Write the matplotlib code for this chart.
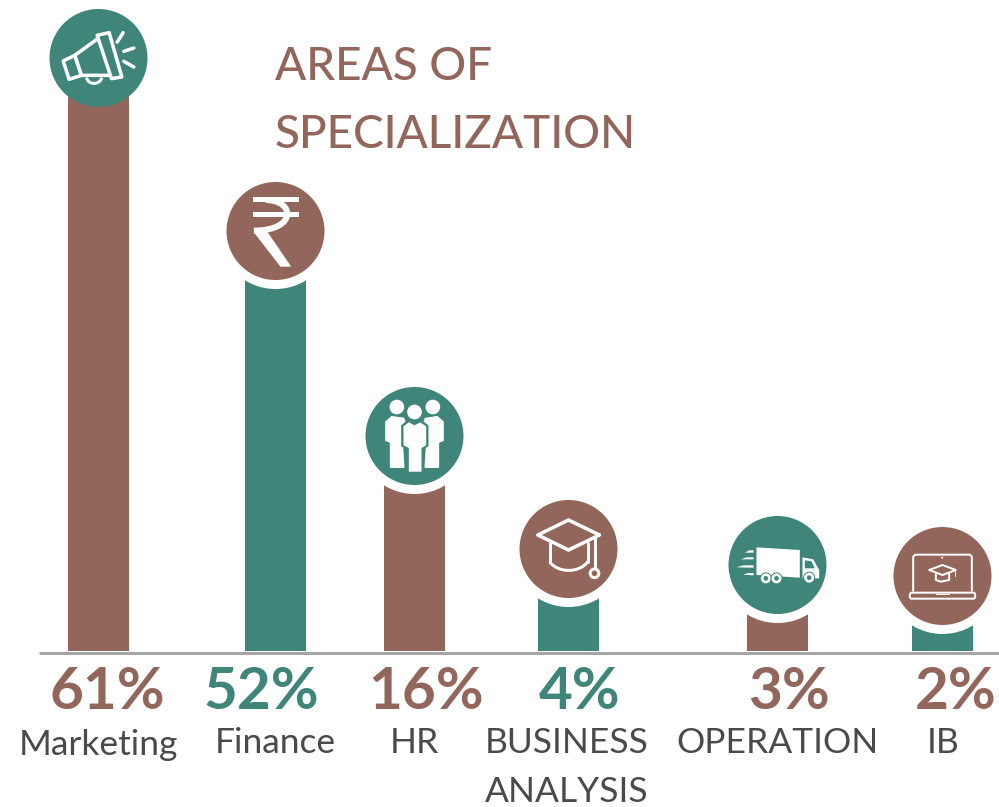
import matplotlib
matplotlib.use("Agg")
from matplotlib import pyplot as plt
from matplotlib.patches import Circle, Polygon, PathPatch, FancyBboxPatch
from matplotlib.path import Path

BROWN = "#93665B"
TEAL = "#3F857A"
GREY = "#4A4A4A"

categories = ["Marketing", "Finance", "HR", "BUSINESS\nANALYSIS", "OPERATION", "IB"]
percents = ["61%", "52%", "16%", "4%", "3%", "2%"]
# bars are not to scale in the picture, heights read off in pixels above the axis
bar_heights = [593, 420, 215, 102, 86, 75]
bar_x = [98.5, 275.5, 414.5, 568.5, 777.5, 942.5]
bar_colors = [BROWN, TEAL, BROWN, TEAL, BROWN, TEAL]
circle_colors = [TEAL, BROWN, TEAL, BROWN, TEAL, BROWN]
percent_colors = [BROWN, TEAL, BROWN, TEAL, BROWN, BROWN]
percent_x = [107, 261, 426, 580, 789, 956]
label_x = [98, 275, 414, 567, 778, 943]
label_y = [-104, -102, -102, -151, -102, -102]

fig = plt.figure(figsize=(9.99, 8.07), dpi=100)
ax = fig.add_axes([0, 0, 1, 1])
ax.set_xlim(0, 999)
ax.set_ylim(-156, 651)
ax.axis("off")

PX = 0.72  # pixels to points


def pts(cx, cy, zc, coords):
    return [(cx + (x - zc[0]) / 3, cy + (zc[1] - y) / 3) for x, y in coords]


def shape(cx, cy, zc, coords, z=5, fc="white", ec="none", lw=0):
    ax.add_patch(Polygon(pts(cx, cy, zc, coords), closed=True, fc=fc, ec=ec, lw=lw * PX,
                         joinstyle="round", zorder=z))


def line(cx, cy, zc, coords, lw=2, color="white", z=5):
    p = pts(cx, cy, zc, coords)
    ax.plot([a[0] for a in p], [a[1] for a in p], color=color, lw=lw * PX, zorder=z,
            solid_capstyle="round", solid_joinstyle="round")


def curve(cx, cy, zc, coords, lw=2, color="white", z=5):
    p = pts(cx, cy, zc, coords)
    codes = [Path.MOVETO] + [Path.CURVE4] * (len(p) - 1)
    ax.add_patch(PathPatch(Path(p, codes), fc="none", ec=color, lw=lw * PX, zorder=z,
                           capstyle="butt"))


def dot(cx, cy, zc, at, r, fc="white", ec="none", lw=0, z=5):
    p = pts(cx, cy, zc, [at])[0]
    ax.add_patch(Circle(p, r / 3, fc=fc, ec=ec, lw=lw * PX, zorder=z))


def megaphone(cx, cy, color):
    zc = (176, 173)
    curve(cx, cy, zc, [(140, 232), (145, 255), (180, 255), (186, 232)], lw=3)
    shape(cx, cy, zc, [(70, 182), (105, 165), (125, 225), (88, 237)], fc=color, ec="white", lw=3.5)
    shape(cx, cy, zc, [(105, 165), (178, 112), (222, 225), (125, 225)], fc=color, ec="white", lw=3.5)
    shape(cx, cy, zc, [(172, 105), (208, 97), (246, 230), (215, 235)], fc=color, ec="white", lw=3.5)
    line(cx, cy, zc, [(232, 125), (250, 97)], lw=3.5)
    line(cx, cy, zc, [(252, 153), (282, 143)], lw=3.5)
    line(cx, cy, zc, [(252, 183), (282, 200)], lw=3.5)


def rupee(cx, cy, color):
    zc = (705, 693)
    shape(cx, cy, zc, [(637, 592), (775, 592), (775, 607), (637, 607)])
    shape(cx, cy, zc, [(637, 635), (775, 635), (775, 651), (637, 651)])
    curve(cx, cy, zc, [(675, 600), (765, 600), (770, 692), (640, 692)], lw=6)
    shape(cx, cy, zc, [(640, 697), (677, 690), (752, 800), (720, 800)])


def people(cx, cy, color):
    zc = (193, 167)
    dot(cx, cy, zc, (140, 80), 22)
    dot(cx, cy, zc, (248, 80), 22)
    left = [(108, 125), (125, 110), (160, 115), (165, 130), (155, 180), (160, 260), (122, 260),
            (122, 185), (108, 180)]
    shape(cx, cy, zc, left, lw=2, ec="white")
    shape(cx, cy, zc, [(386 - x, y) for x, y in left], lw=2, ec="white")
    shape(cx, cy, zc, [(153, 135), (173, 118), (193, 128), (213, 118), (235, 135), (235, 198),
                       (219, 208), (219, 278), (170, 278), (170, 208), (153, 198)], fc=color)
    dot(cx, cy, zc, (193, 95), 22, z=6)
    shape(cx, cy, zc, [(160, 138), (176, 126), (193, 135), (210, 126), (228, 138), (228, 195),
                       (214, 203), (214, 274), (176, 274), (176, 203), (160, 195)], z=6)


def grad_cap(cx, cy, color):
    zc = (657, 507)
    shape(cx, cy, zc, [(565, 465), (657, 420), (750, 465), (657, 510)], fc=color, ec="white", lw=3.5)
    line(cx, cy, zc, [(600, 490), (600, 545)], lw=3)
    line(cx, cy, zc, [(715, 490), (715, 545)], lw=3)
    curve(cx, cy, zc, [(600, 545), (625, 580), (690, 580), (715, 545)], lw=3)
    line(cx, cy, zc, [(735, 475), (735, 568)], lw=3)
    dot(cx, cy, zc, (735, 580), 13, fc=color, ec="white", lw=3)


def truck(cx, cy, color):
    zc = (203, 195)
    shape(cx, cy, zc, [(140, 142), (270, 150), (270, 233), (140, 225)])
    shape(cx, cy, zc, [(278, 172), (310, 178), (328, 210), (328, 235), (278, 235)])
    shape(cx, cy, zc, [(285, 181), (305, 184), (315, 205), (285, 205)], fc=color)
    for at in [(168, 235), (200, 235), (298, 233)]:
        dot(cx, cy, zc, at, 18, fc=color, z=6)
        dot(cx, cy, zc, at, 15, z=6)
        dot(cx, cy, zc, at, 7, fc=color, z=6)
    shape(cx, cy, zc, [(105, 158), (118, 151), (131, 151), (131, 158)])
    shape(cx, cy, zc, [(93, 178), (110, 172), (131, 172), (131, 178)])
    shape(cx, cy, zc, [(80, 202), (100, 196), (131, 196), (131, 203)])
    shape(cx, cy, zc, [(100, 224), (115, 219), (131, 219), (131, 226)])


def laptop(cx, cy, color):
    zc = (700, 228)
    line(cx, cy, zc, [(612, 272), (612, 170), (618, 164), (782, 164), (788, 170), (788, 272)], lw=2)
    p = pts(cx, cy, zc, [(602, 296)])[0]
    ax.add_patch(FancyBboxPatch(p, 196 / 3, 18 / 3, boxstyle="round,pad=0,rounding_size=2",
                                fc="none", ec="white", lw=2 * PX, zorder=5))
    line(cx, cy, zc, [(680, 282), (720, 282)], lw=1)
    dot(cx, cy, zc, (699, 173), 3)
    shape(cx, cy, zc, [(660, 210), (700, 195), (740, 210), (700, 225)], fc=color, ec="white", lw=2)
    line(cx, cy, zc, [(680, 222), (680, 240), (695, 245), (720, 240), (720, 222)], lw=2)
    line(cx, cy, zc, [(738, 212), (738, 228)], lw=1)


icons = [megaphone, rupee, people, grad_cap, truck, laptop]

ax.bar(bar_x, bar_heights, width=61, color=bar_colors, zorder=1)
ax.plot([39, 999], [-1.5, -1.5], color="#A6A6A6", lw=3 * PX, solid_capstyle="butt", zorder=2)

for i, h in enumerate(bar_heights):
    cx = bar_x[i]
    if i > 0:
        ax.add_patch(Circle((cx, h), 58, fc="white", ec="none", zorder=3))
    ax.add_patch(Circle((cx, h), 49, fc=circle_colors[i], ec="none", zorder=4))
    icons[i](cx, h, circle_colors[i])

    ax.text(percent_x[i], -58, percents[i], color=percent_colors[i], fontsize=42, family="Lato",
            weight="bold", ha="center", va="baseline", zorder=6)
    ax.text(label_x[i], label_y[i], categories[i], color=GREY, fontsize=25.5, family="Lato",
            ha="center", va="baseline", linespacing=1.66, zorder=6)

ax.text(275, 571, "AREAS OF", color=BROWN, fontsize=33, family="Lato", weight="medium",
        ha="left", va="baseline")
ax.text(275, 503, "SPECIALIZATION", color=BROWN, fontsize=33, family="Lato", weight="medium",
        ha="left", va="baseline")

fig.savefig("out.png", dpi=100)
